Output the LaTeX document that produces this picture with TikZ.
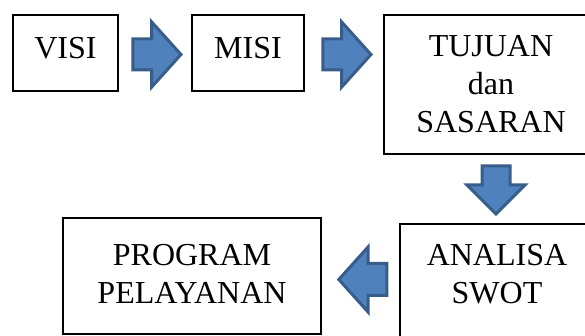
\documentclass[tikz,border=0pt]{standalone}
\usepackage{fontspec}
\setmainfont{Liberation Serif}
\usetikzlibrary{shapes.arrows,calc}
\definecolor{arrowfill}{HTML}{4F81BD}
\definecolor{arrowedge}{HTML}{385D8A}
\tikzset{
  box/.style={shape=rectangle,draw,line width=1pt,inner sep=0pt},
  boxtext/.style={anchor=north,inner sep=0pt,align=center,
    font=\fontsize{16}{19}\selectfont},
  blockarrow/.style={single arrow,draw=arrowedge,fill=arrowfill,
    line width=1.5pt,inner xsep=0pt,inner ysep=7pt,minimum height=24pt,
    single arrow head extend=8.5pt,single arrow tip angle=96}
}
\begin{document}
\begin{tikzpicture}[x=0.5pt,y=-0.5pt]

      \useasboundingbox (0,0) rectangle (585,336);
      \clip (0,0) rectangle (585,336);

      \path node (visi) at (65.5,53)
            [box,minimum width=52.5pt,minimum height=38pt,
             label={[boxtext,yshift=-11.5pt]90:VISI}] {};

      \path node (misi) at (248,53)
            [box,minimum width=56pt,minimum height=38pt,
             label={[boxtext,yshift=-11.5pt]90:MISI}] {};

      \path node (tujuan) at (491,84.5)
            [box,minimum width=107pt,minimum height=69.5pt,
             label={[boxtext,yshift=-10.5pt]90:TUJUAN\\dan\\SASARAN}] {};

      \path node (analisa) at (497,297)
            [box,minimum width=97pt,minimum height=73pt,
             label={[boxtext,yshift=-10.5pt]90:ANALISA\\SWOT}] {};

      \path node (program) at (192,276)
            [box,minimum width=129pt,minimum height=58pt,
             label={[boxtext,yshift=-13.5pt]90:PROGRAM\\PELAYANAN}] {};

      \path node (visimisi) at ($(visi.east)!0.5!(misi.west)+(-5,1.5)$)
            [blockarrow] {};
      \path node (misitujuan)
            at ($(misi.east)!0.5!(misi.east -| tujuan.west)+(-4,1.5)$)
            [blockarrow] {};
      \path node (tujuananalisa) at ($(tujuan.south)!0.5!(analisa.north)+(2,-6)$)
            [blockarrow,rotate=-90,inner ysep=6.25pt,
             single arrow head extend=7.5pt,single arrow tip angle=90] {};
      \path node (analisaprogram)
            at ($(program.east)!0.5!(analisa.west)+(9.5,-7)$)
            [blockarrow,rotate=180,inner ysep=7.25pt,
             single arrow head extend=8.25pt] {};
    \end{tikzpicture}
\end{document}
